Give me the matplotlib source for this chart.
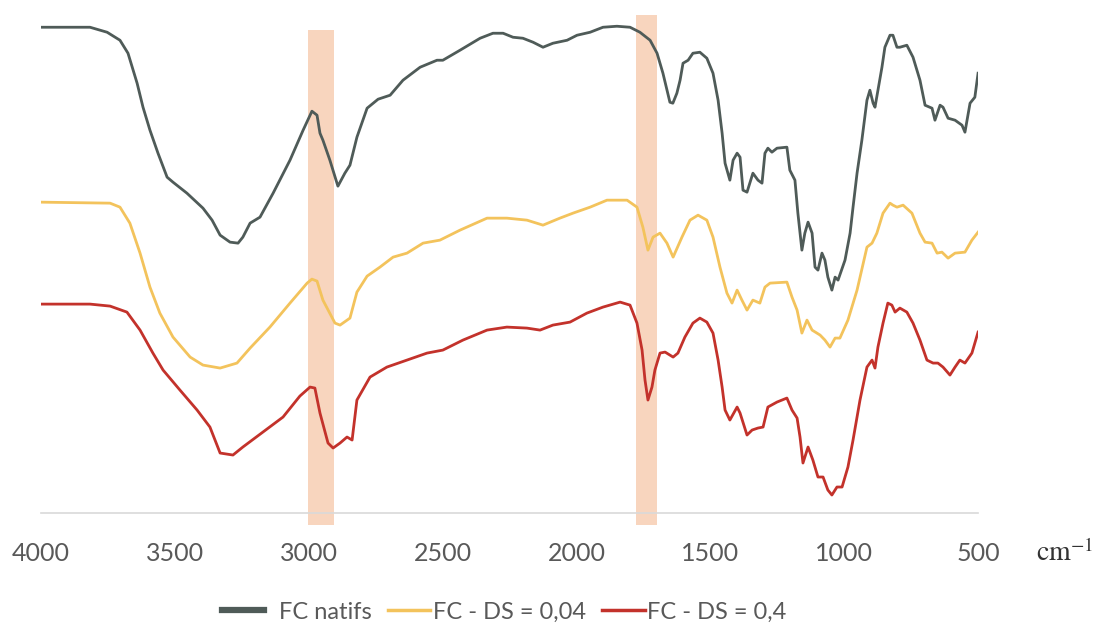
import matplotlib
matplotlib.use("Agg")
import matplotlib.pyplot as plt

# FTIR spectra, wavenumber (cm-1) and transmittance (a.u.)
wn_natifs = [4000, 3817, 3753, 3705, 3675, 3641, 3619, 3593, 3563, 3529, 3507, 3455, 3395, 3361,
             3331, 3294, 3264, 3246, 3219, 3182, 3133, 3070, 3021, 2988, 2969, 2958, 2947, 2921,
             2891, 2865, 2846, 2820, 2782, 2741, 2696, 2648, 2584, 2521, 2499, 2435, 2360, 2312,
             2274, 2237, 2200, 2162, 2125, 2088, 2035, 1998, 1949, 1901, 1849, 1800, 1763, 1725,
             1699, 1677, 1651, 1640, 1625, 1613, 1602, 1583, 1565, 1539, 1513, 1490, 1471, 1456,
             1445, 1427, 1415, 1400, 1389, 1378, 1363, 1341, 1322, 1307, 1296, 1285, 1270, 1251,
             1214, 1203, 1184, 1173, 1158, 1147, 1135, 1120, 1109, 1098, 1083, 1072, 1061, 1046,
             1034, 1023, 997, 978, 967, 952, 934, 915, 904, 892, 885, 874, 859, 848, 829, 818,
             803, 792, 766, 743, 717, 698, 672, 661, 642, 631, 612, 586, 560, 549, 530, 512, 500]
t_natifs = [97.2, 97.2, 96.2, 94.6, 92.0, 86.0, 81.2, 76.6, 72.0, 67.2, 66.2, 64.0, 61.0, 58.6,
            55.6, 54.2, 54.0, 55.2, 58.0, 59.2, 64.0, 70.6, 76.6, 80.4, 79.6, 76.0, 74.6, 70.6,
            65.4, 68.0, 69.6, 75.2, 81.0, 82.8, 83.6, 86.6, 89.2, 90.6, 90.6, 92.6, 95.0, 96.0,
            96.0, 95.2, 95.0, 94.2, 93.2, 94.0, 94.6, 95.6, 96.2, 97.2, 97.4, 97.2, 96.2, 94.6,
            92.0, 88.0, 82.2, 82.0, 84.0, 86.6, 90.0, 90.6, 92.0, 92.2, 91.0, 88.0, 82.6, 76.0,
            70.0, 66.6, 70.6, 72.0, 71.2, 64.6, 64.2, 68.0, 66.6, 66.0, 72.0, 73.0, 72.2, 73.0,
            73.2, 68.6, 66.6, 60.0, 52.6, 56.0, 58.2, 56.0, 49.2, 48.6, 52.0, 50.6, 47.2, 44.6,
            47.2, 46.6, 50.6, 56.0, 61.2, 68.0, 74.6, 82.6, 84.6, 82.0, 81.2, 84.6, 89.2, 93.2,
            95.6, 95.6, 93.2, 93.2, 93.6, 91.2, 86.6, 81.6, 81.0, 78.6, 81.6, 81.2, 79.0, 78.6,
            77.6, 76.2, 82.0, 83.2, 88.0]

wn_ds004 = [4000, 3742, 3705, 3668, 3630, 3593, 3556, 3507, 3443, 3395, 3331, 3268, 3219, 3145,
            3070, 3006, 2988, 2969, 2947, 2902, 2883, 2846, 2820, 2782, 2734, 2685, 2633, 2573,
            2510, 2435, 2334, 2260, 2185, 2125, 2062, 2013, 1949, 1886, 1811, 1774, 1752, 1733,
            1714, 1688, 1662, 1639, 1606, 1576, 1546, 1513, 1490, 1464, 1438, 1419, 1400, 1382,
            1363, 1341, 1315, 1296, 1277, 1214, 1195, 1176, 1158, 1139, 1120, 1090, 1072, 1053,
            1034, 1016, 986, 952, 915, 896, 878, 855, 829, 818, 803, 780, 747, 717, 698, 672,
            653, 635, 612, 586, 549, 523, 500]
t_ds004 = [62.2, 62.0, 61.2, 58.0, 52.0, 45.2, 40.0, 35.2, 31.2, 29.6, 29.0, 30.0, 33.0, 37.2,
           42.0, 46.0, 46.8, 46.4, 42.6, 38.0, 37.6, 39.0, 44.2, 47.4, 49.2, 51.2, 52.0, 54.0,
           54.6, 56.6, 59.0, 59.0, 58.6, 57.6, 59.0, 60.0, 61.2, 62.6, 62.6, 61.2, 57.2, 52.6,
           55.2, 56.0, 54.0, 51.2, 55.2, 58.6, 59.6, 58.6, 55.2, 49.2, 44.0, 42.0, 44.6, 42.6,
           40.6, 42.6, 42.0, 45.2, 46.0, 46.2, 43.2, 40.6, 36.0, 38.6, 36.6, 35.6, 34.6, 33.2,
           35.0, 35.0, 38.6, 44.6, 53.2, 54.0, 56.0, 60.0, 62.0, 61.6, 61.2, 61.6, 60.0, 56.0,
           54.2, 54.0, 52.0, 52.2, 51.0, 52.0, 52.2, 54.6, 56.2]

wn_ds04 = [4000, 3817, 3742, 3679, 3630, 3582, 3544, 3481, 3417, 3369, 3331, 3283, 3246, 3171,
           3096, 3033, 2995, 2977, 2958, 2928, 2909, 2883, 2857, 2838, 2820, 2771, 2708, 2633,
           2558, 2499, 2424, 2334, 2260, 2185, 2136, 2088, 2024, 1961, 1901, 1837, 1800, 1774,
           1755, 1744, 1733, 1718, 1707, 1688, 1669, 1639, 1621, 1595, 1565, 1539, 1513, 1490,
           1471, 1456, 1445, 1427, 1400, 1389, 1363, 1344, 1322, 1303, 1285, 1251, 1214, 1195,
           1176, 1165, 1154, 1135, 1117, 1098, 1079, 1061, 1046, 1027, 1008, 986, 967, 941,
           915, 896, 885, 874, 855, 837, 822, 810, 792, 766, 743, 717, 691, 668, 650, 631,
           605, 586, 568, 549, 523, 500]
t_ds04 = [41.8, 41.8, 41.4, 40.2, 36.6, 32.0, 28.6, 24.6, 20.6, 17.2, 12.0, 11.6, 13.2, 16.2,
          19.2, 23.4, 25.2, 25.0, 20.0, 14.0, 13.0, 14.0, 15.2, 14.6, 22.6, 27.2, 29.2, 30.6,
          32.0, 32.6, 34.6, 36.6, 37.2, 37.0, 36.6, 37.6, 38.2, 40.0, 41.2, 42.2, 41.6, 38.0,
          32.6, 26.6, 22.6, 25.2, 28.6, 32.0, 32.2, 31.2, 32.0, 35.2, 38.0, 39.0, 38.2, 36.0,
          30.6, 25.2, 20.6, 18.6, 21.2, 20.0, 15.6, 16.6, 17.0, 17.2, 21.2, 22.2, 23.0, 20.6,
          19.0, 15.2, 10.0, 13.2, 10.6, 7.2, 7.2, 4.6, 3.6, 5.2, 5.2, 9.2, 14.6, 22.6,
          29.2, 30.6, 29.0, 33.2, 38.0, 42.0, 41.6, 40.2, 41.0, 40.2, 38.0, 34.6, 30.6, 30.0, 30.0, 29.2,
          27.6, 29.2, 30.6, 30.0, 32.0, 36.2]

labels = ['  FC natifs', 'FC - DS = 0,04', 'FC - DS = 0,4']
colors = ['#4f5b58', '#f3c35c', '#c3322b']

# highlighted bands (cm-1)
bands = [(3003, 2906), (1778, 1700)]
band_tops = [0.966, 0.996]

xticks = [4000, 3500, 3000, 2500, 2000, 1500, 1000, 500]


def make_plot():
    fig = plt.figure(figsize=(10.96, 6.31), dpi=100)
    ax = fig.add_axes([0.0374, 0.187, 0.855, 0.792])

    for (hi, lo), top in zip(bands, band_tops):
        ax.axvspan(lo, hi, ymin=-0.024, ymax=top, color='#f6c6a6', alpha=0.72,
                   lw=0, zorder=0, clip_on=False)

    ax.plot(wn_natifs, t_natifs, color=colors[0], lw=2.0, label=labels[0], solid_joinstyle='round')
    ax.plot(wn_ds004, t_ds004, color=colors[1], lw=2.0, label=labels[1], solid_joinstyle='round')
    ax.plot(wn_ds04, t_ds04, color=colors[2], lw=2.0, label=labels[2], solid_joinstyle='round')

    ax.set_xlim(4000, 500)
    ax.set_ylim(0, 100)
    ax.set_xticks(xticks)
    ax.set_xticklabels([str(t) for t in xticks], fontfamily='Lato', fontsize=18, color='#595959')
    ax.tick_params(axis='x', length=0, pad=21)
    ax.set_yticks([])
    for s in ['top', 'right', 'left']:
        ax.spines[s].set_visible(False)
    ax.spines['bottom'].set_color('#d9d9d9')
    ax.spines['bottom'].set_linewidth(1.2)

    ax.text(1.062, -0.08, r'$\mathrm{cm}^{-1}$', transform=ax.transAxes, fontsize=20,
            math_fontfamily='stix', color='#333333', ha='left', va='center')

    leg = ax.legend(loc='center', bbox_to_anchor=(0.46, 0.03), bbox_transform=fig.transFigure,
                    ncol=3, frameon=False, handlelength=1.8, handletextpad=0.1,
                    columnspacing=0.7, borderpad=0, prop={'family': 'Lato', 'size': 17})
    for t in leg.get_texts():
        t.set_color('#595959')
    leg.get_lines()[0].set_linewidth(4.5)
    for ln in leg.get_lines()[1:]:
        ln.set_linewidth(2.5)

    plt.savefig("out.png", dpi=100)
    plt.close()


if __name__ == "__main__":
    make_plot()
